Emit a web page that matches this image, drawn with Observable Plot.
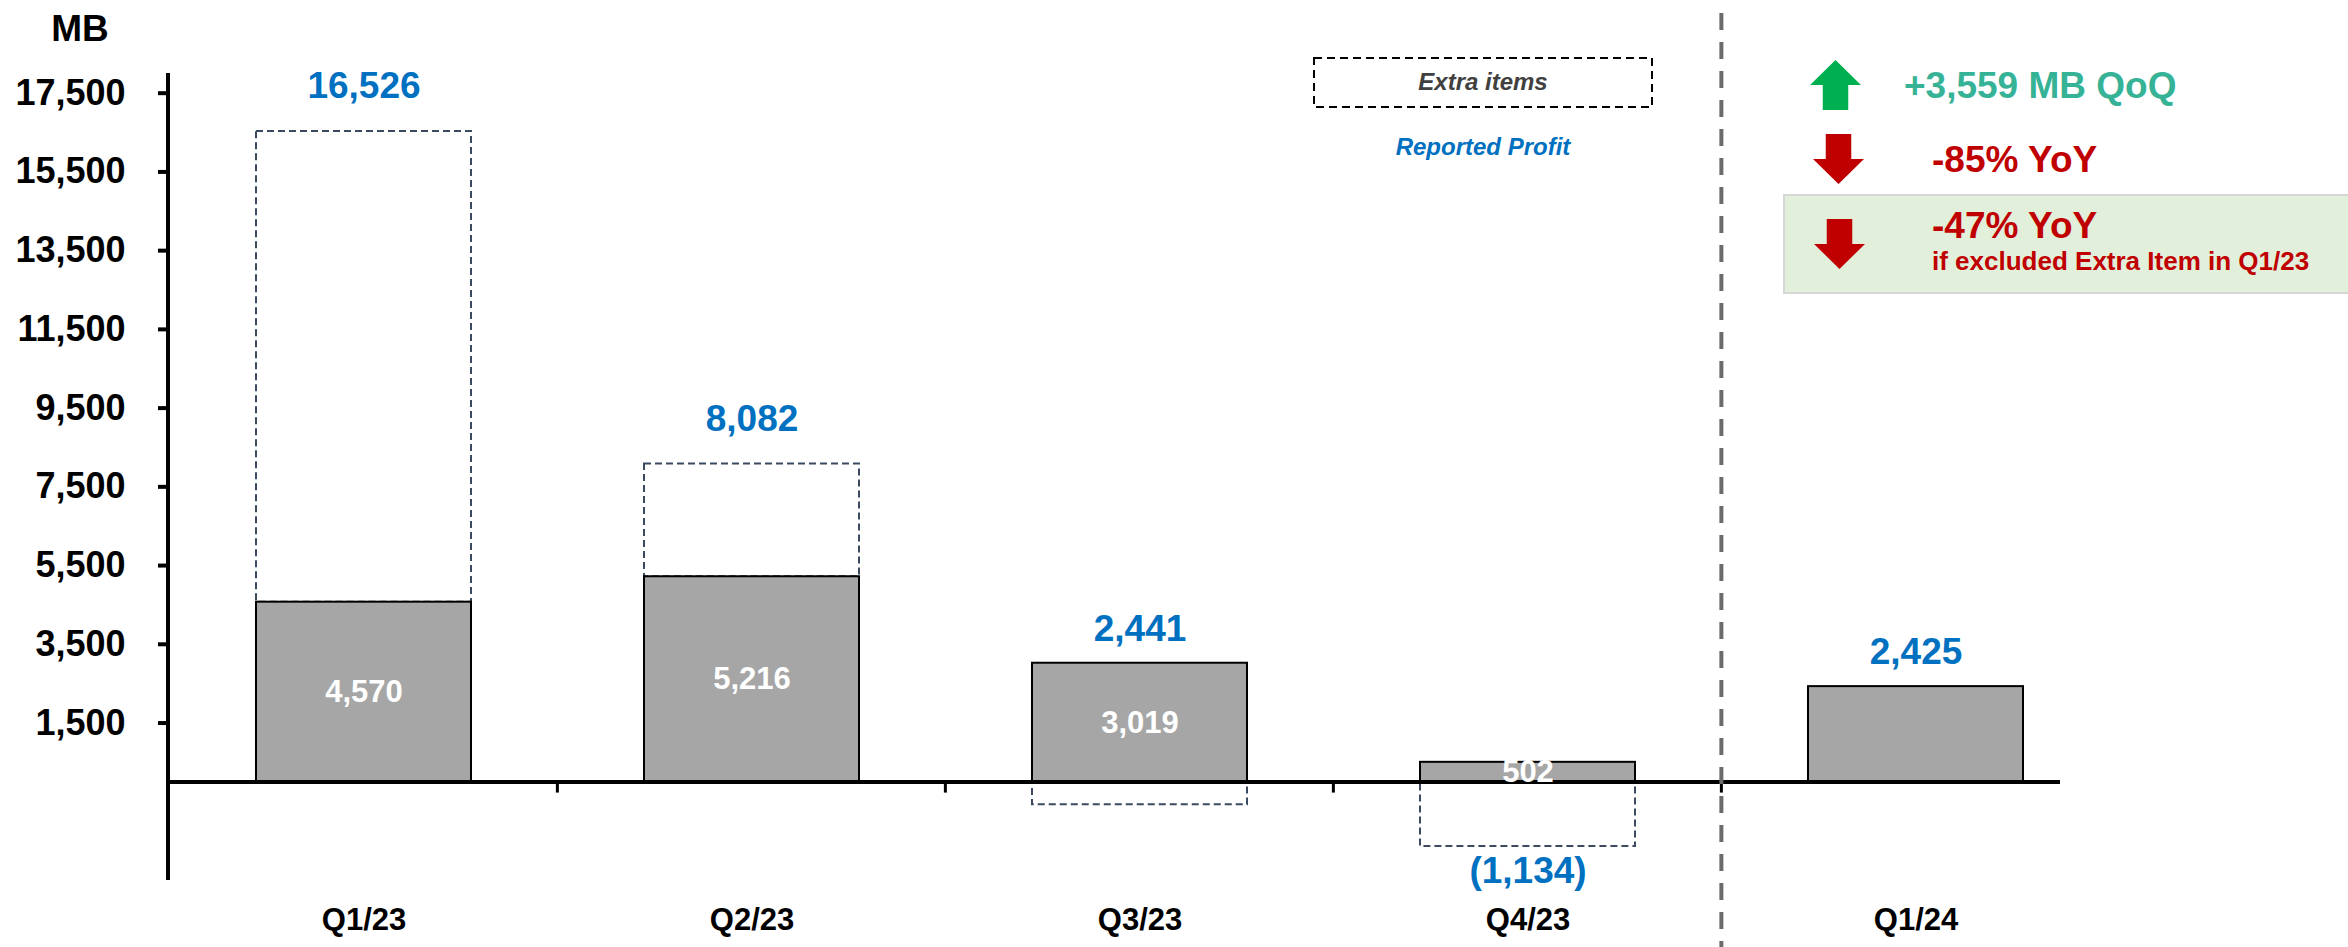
<!DOCTYPE html>
<html>
<head>
<meta charset="utf-8">
<script src="https://cdn.jsdelivr.net/npm/d3@7"></script>
<script src="https://cdn.jsdelivr.net/npm/@observablehq/plot@0.6"></script>
<style>
  html, body { margin: 0; padding: 0; background: #ffffff; }
  #wrap { position: relative; width: 2348px; height: 947px; overflow: hidden; background: #ffffff; }
  #wrap > svg { position: absolute; left: 0; top: 0; }
  #overlay { pointer-events: none; }
</style>
</head>
<body>
<div id="wrap"></div>
<script>
// ---------- data ----------
const quarters       = ["Q1/23", "Q2/23", "Q3/23", "Q4/23", "Q1/24"];
const coreProfit     = [4570, 5216, 3019, 502, 2425];      // grey bars
const extraItems     = [11956, 2866, -578, -1636, 0];       // dashed boxes
const reportedProfit = [16526, 8082, 2441, -1134, 2425];    // blue labels
const showCoreLabel  = [true, true, true, true, false];
const yTicks         = [1500, 3500, 5500, 7500, 9500, 11500, 13500, 15500, 17500];
const yDomain        = [-2500, 18000];

const unitLabel    = "MB";
const legendExtra  = "Extra items";
const legendReport = "Reported Profit";
const noteQoQ      = "+3,559 MB QoQ";
const noteYoY      = "-85% YoY";
const noteYoY2     = "-47% YoY";
const noteYoY2Sub  = "if excluded Extra Item in Q1/23";

// ---------- layout ----------
const W = 2348, H = 947;
const FONT = "'Liberation Sans', Arial, Helvetica, sans-serif";
const PAD_INNER = 0.4465;
const fmt = d3.format(",");

const rows = quarters.map((q, i) => ({
  q,
  core: coreProfit[i],
  extra: extraItems[i],
  reported: reportedProfit[i],
  showCore: showCoreLabel[i],
  label: reportedProfit[i] < 0 ? `(${fmt(-reportedProfit[i])})` : fmt(reportedProfit[i])
}));

const boxes = rows.filter(d => d.extra !== 0).map(d => ({
  q: d.q,
  y1: d.extra > 0 ? d.core : 0,
  y2: d.extra > 0 ? d.core + d.extra : d.extra
}));

// structural lines drawn through the scales
function structure(index, scales, values, dims) {
  const g = d3.create("svg:g");
  const x = scales.x, y = scales.y;
  const step = x(quarters[1]) - x(quarters[0]);
  const gap = step * PAD_INNER;
  const y0 = y(0);
  for (let i = 1; i < quarters.length; i++) {
    const bx = x(quarters[i]) - gap / 2;
    g.append("line").attr("x1", bx).attr("x2", bx).attr("y1", y0).attr("y2", y0 + 11)
      .attr("stroke", "#000").attr("stroke-width", 3);
  }
  g.append("line")
    .attr("x1", dims.marginLeft).attr("x2", dims.marginLeft)
    .attr("y1", dims.marginTop).attr("y2", dims.height - dims.marginBottom)
    .attr("stroke", "#000").attr("stroke-width", 4);
  const dx = x(quarters[quarters.length - 1]) - gap / 2;
  g.append("line").attr("x1", dx).attr("x2", dx).attr("y1", 13).attr("y2", dims.height)
    .attr("stroke", "#6b6b6b").attr("stroke-width", 4).attr("stroke-dasharray", "17,12");
  return g.node();
}

const chart = Plot.plot({
  width: W,
  height: H,
  marginTop: 73,
  marginBottom: 67,
  marginLeft: 168,
  marginRight: 288,
  style: { fontFamily: FONT, background: "transparent", overflow: "visible", color: "#000" },
  x: { domain: quarters, range: [168, 2110], paddingInner: PAD_INNER, paddingOuter: PAD_INNER / 2 },
  y: { domain: yDomain },
  marks: [
    Plot.rectY(boxes, { x: "q", y1: "y1", y2: "y2", fill: "none", stroke: "#3b4a60",
      strokeWidth: 2, strokeDasharray: "7,4" }),
    Plot.barY(rows, { x: "q", y: "core", fill: "#a6a6a6", stroke: "#000", strokeWidth: 2 }),
    Plot.ruleY([0], { stroke: "#000", strokeWidth: 4 }),
    structure,
    Plot.axisY({ ticks: yTicks, tickFormat: fmt, tickSize: 10, tickPadding: 33, fontSize: 36,
      fontWeight: "bold", strokeWidth: 4, label: null }),
    Plot.axisX({ tickSize: 0, tickPadding: 27, fontSize: 31, fontWeight: "bold", label: null }),
    Plot.text(rows.filter(d => d.showCore), { x: "q", y: d => d.core / 2, text: d => fmt(d.core),
      fill: "#fff", fontSize: 31, fontWeight: "bold" }),
    Plot.text(rows.filter(d => d.reported >= 0 && d.extra > 0), { x: "q", y: d => d.core + d.extra,
      text: "label", dy: -45, fill: "#0070c0", fontSize: 37, fontWeight: "bold" }),
    Plot.text(rows.filter(d => d.reported >= 0 && d.extra <= 0), { x: "q", y: "core",
      text: "label", dy: -34, fill: "#0070c0", fontSize: 37, fontWeight: "bold" }),
    Plot.text(rows.filter(d => d.reported < 0), { x: "q", y: d => Math.min(0, d.extra),
      text: "label", dy: 25, fill: "#0070c0", fontSize: 37, fontWeight: "bold" })
  ]
});

const wrap = document.getElementById("wrap");
wrap.appendChild(chart);

// ---------- annotations overlay ----------
const ov = d3.select(wrap).append("svg").attr("id", "overlay")
  .attr("width", W).attr("height", H).style("font-family", FONT);

ov.append("text").attr("x", 80).attr("y", 41).attr("text-anchor", "middle")
  .attr("font-size", 37).attr("font-weight", "bold").attr("fill", "#000").text(unitLabel);

ov.append("rect").attr("x", 1314).attr("y", 58).attr("width", 338).attr("height", 49)
  .attr("fill", "none").attr("stroke", "#000").attr("stroke-width", 2).attr("stroke-dasharray", "8,5");
ov.append("text").attr("x", 1483).attr("y", 90).attr("text-anchor", "middle")
  .attr("font-size", 24).attr("font-weight", "bold").attr("font-style", "italic")
  .attr("fill", "#404040").text(legendExtra);
ov.append("text").attr("x", 1483).attr("y", 155).attr("text-anchor", "middle")
  .attr("font-size", 24).attr("font-weight", "bold").attr("font-style", "italic")
  .attr("fill", "#0070c0").text(legendReport);

ov.append("rect").attr("x", 1784).attr("y", 195).attr("width", 570).attr("height", 98)
  .attr("fill", "#e2efda").attr("stroke", "#d6d6d6").attr("stroke-width", 2);

function upArrow(x, y, w, h, color) {
  const head = h * 0.5, sw = w * 0.5;
  ov.append("polygon").attr("fill", color).attr("points", [
    [x, y + head], [x + w / 2, y], [x + w, y + head],
    [x + w / 2 + sw / 2, y + head], [x + w / 2 + sw / 2, y + h],
    [x + w / 2 - sw / 2, y + h], [x + w / 2 - sw / 2, y + head]
  ].map(p => p.join(",")).join(" "));
}
function downArrow(x, y, w, h, color) {
  const head = h * 0.5, sw = w * 0.5;
  ov.append("polygon").attr("fill", color).attr("points", [
    [x + w / 2 - sw / 2, y], [x + w / 2 + sw / 2, y], [x + w / 2 + sw / 2, y + h - head],
    [x + w, y + h - head], [x + w / 2, y + h], [x, y + h - head],
    [x + w / 2 - sw / 2, y + h - head]
  ].map(p => p.join(",")).join(" "));
}
upArrow(1810, 60, 51, 50, "#00b050");
downArrow(1813, 134, 51, 50, "#c00000");
downArrow(1814, 219, 51, 50, "#c00000");

ov.append("text").attr("x", 1904).attr("y", 98).attr("font-size", 37).attr("font-weight", "bold")
  .attr("fill", "#36b296").text(noteQoQ);
ov.append("text").attr("x", 1932).attr("y", 172).attr("font-size", 37).attr("font-weight", "bold")
  .attr("fill", "#c00000").text(noteYoY);
ov.append("text").attr("x", 1932).attr("y", 238).attr("font-size", 37).attr("font-weight", "bold")
  .attr("fill", "#c00000").text(noteYoY2);
ov.append("text").attr("x", 1932).attr("y", 270).attr("font-size", 26).attr("font-weight", "bold")
  .attr("fill", "#c00000").text(noteYoY2Sub);
</script>
</body>
</html>
